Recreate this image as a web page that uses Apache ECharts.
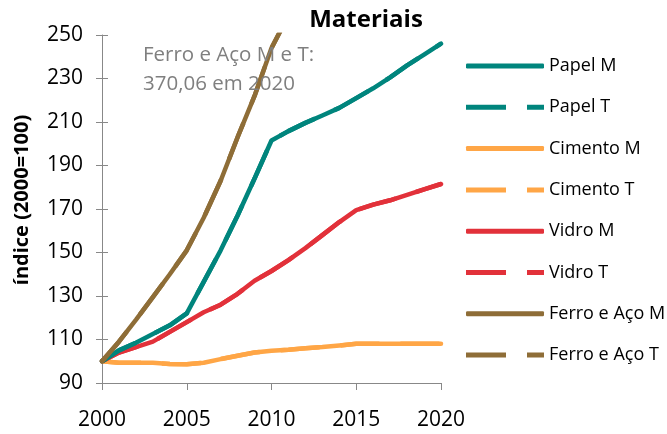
<!DOCTYPE html>
<html>
<head>
<meta charset="utf-8">
<script src="https://cdn.jsdelivr.net/npm/echarts@6/dist/echarts.min.js"></script>
<style>
  html, body { margin: 0; padding: 0; background: #fff; }
  #chart { width: 667px; height: 434px; }
</style>
</head>
<body>
<div id="chart"></div>
<script>
// Years on the horizontal axis
const years = [2000, 2001, 2002, 2003, 2004, 2005, 2006, 2007, 2008, 2009, 2010,
               2011, 2012, 2013, 2014, 2015, 2016, 2017, 2018, 2019, 2020];

// Index values (2000 = 100) per material, M and T
const papelM   = [100, 105, 108.5, 112.5, 116.5, 122, 136.5, 151, 167, 184, 201.5,
                  205.8, 209.6, 213, 216.5, 221, 225.5, 230.5, 236, 241, 246];
const papelT   = [100, 105, 108.5, 112.5, 116.5, 122, 136.5, 151, 167, 184, 201.5,
                  205.8, 209.6, 213, 216.5, 221, 225.5, 230.5, 236, 241, 246];
const cimentoM = [100, 99.3, 99.3, 99.3, 98.7, 98.6, 99.3, 101, 102.5, 104, 104.8,
                  105.3, 106, 106.5, 107.2, 108, 108, 108, 108, 108, 108];
const cimentoT = [100, 99.3, 99.3, 99.3, 98.7, 98.6, 99.3, 101, 102.5, 104, 104.8,
                  105.3, 106, 106.5, 107.2, 108, 108, 108, 108, 108, 108];
const vidroM   = [100, 104, 106.5, 109, 113.5, 118, 122.5, 126, 131, 137, 141.5,
                  146.5, 152, 158, 164, 169.5, 172, 174, 176.5, 179, 181.5];
const vidroT   = [100, 104, 106.5, 109, 113.5, 118, 122.5, 126, 131, 137, 141.5,
                  146.5, 152, 158, 164, 169.5, 172, 174, 176.5, 179, 181.5];
const ferroM   = [100, 109, 119, 129.5, 140, 151, 166, 183, 203, 222, 244,
                  259, 272, 284, 296, 308, 320, 333, 345, 357.5, 370.06];
const ferroT   = [100, 109, 119, 129.5, 140, 151, 166, 183, 203, 222, 244,
                  259, 272, 284, 296, 308, 320, 333, 345, 357.5, 370.06];

// Axis ticks
const yTicks = { min: 90, max: 250, step: 20 };
const xTicks = { min: 2000, max: 2020, step: 5 };

const FONT = '"Open Sans", "Noto Sans", sans-serif';
const AXIS_GREY = '#888888';

const COLORS = {
  papel: '#00857D',
  cimento: '#FFA646',
  vidro: '#E2313A',
  ferro: '#8E6D37'
};

// Legend keys: a thick bar for M lines, a long + short dash for T lines
const ICON_SOLID = 'roundRect';
const ICON_DASH = 'path://M0,0H40V5H0Z M61,0H78V5H61Z';

function pairs(values) {
  return years.map((y, i) => [y, values[i]]);
}

function solid(name, values, color) {
  return {
    name, type: 'line', data: pairs(values),
    symbol: 'none', clip: true,
    lineStyle: { color, width: 4.5, cap: 'round', join: 'round' },
    itemStyle: { color },
    emphasis: { disabled: true }
  };
}

function dashed(name, values, color) {
  return {
    name, type: 'line', data: pairs(values),
    symbol: 'none', clip: true,
    lineStyle: { color, width: 4.5, type: [39, 21], cap: 'butt' },
    itemStyle: { color },
    emphasis: { disabled: true }
  };
}

const chart = echarts.init(document.getElementById('chart'), null, { renderer: 'canvas' });

chart.setOption({
  animation: false,
  backgroundColor: '#ffffff',
  textStyle: { fontFamily: FONT },
  grid: { left: 102, right: 226, top: 35, bottom: 51, containLabel: false },
  xAxis: {
    type: 'value',
    min: xTicks.min, max: xTicks.max, interval: xTicks.step,
    axisLine: { lineStyle: { color: AXIS_GREY, width: 1 } },
    axisTick: { show: true, length: 7, lineStyle: { color: AXIS_GREY } },
    axisLabel: {
      fontFamily: FONT, fontSize: 21, color: '#000', margin: 27,
      formatter: v => String(v)
    },
    splitLine: { show: false }
  },
  yAxis: [
    {
      type: 'value',
      min: yTicks.min, max: yTicks.max, interval: yTicks.step,
      axisLine: { show: true, lineStyle: { color: AXIS_GREY, width: 1 } },
      axisTick: { show: true, length: 6, lineStyle: { color: AXIS_GREY } },
      axisLabel: { fontFamily: FONT, fontSize: 21, color: '#000', margin: 19 },
      splitLine: { show: false }
    },
    {
      // second copy of the left axis, drawing the inner half of the cross ticks
      type: 'value', position: 'left', offset: 0,
      min: yTicks.min, max: yTicks.max, interval: yTicks.step,
      axisLine: { show: false },
      axisTick: { show: true, inside: true, length: 6, lineStyle: { color: AXIS_GREY } },
      axisLabel: { show: false },
      splitLine: { show: false }
    }
  ],
  legend: {
    orient: 'vertical',
    left: 466, top: 52,
    padding: 0,
    itemWidth: 78, itemHeight: 5, itemGap: 13.3,
    selectedMode: false,
    textStyle: { fontFamily: FONT, fontSize: 18, color: '#000', lineHeight: 22, padding: [6, 0, 0, 0] },
    data: [
      { name: 'Papel M', icon: ICON_SOLID },
      { name: 'Papel T', icon: ICON_DASH },
      { name: 'Cimento M', icon: ICON_SOLID },
      { name: 'Cimento T', icon: ICON_DASH },
      { name: 'Vidro M', icon: ICON_SOLID },
      { name: 'Vidro T', icon: ICON_DASH },
      { name: 'Ferro e Aço M', icon: ICON_SOLID },
      { name: 'Ferro e Aço T', icon: ICON_DASH }
    ]
  },
  series: [
    solid('Cimento M', cimentoM, COLORS.cimento),
    dashed('Cimento T', cimentoT, COLORS.cimento),
    solid('Vidro M', vidroM, COLORS.vidro),
    dashed('Vidro T', vidroT, COLORS.vidro),
    solid('Papel M', papelM, COLORS.papel),
    dashed('Papel T', papelT, COLORS.papel),
    solid('Ferro e Aço M', ferroM, COLORS.ferro),
    dashed('Ferro e Aço T', ferroT, COLORS.ferro)
  ],
  graphic: [
    {
      type: 'text', x: 366, y: 8, z: 10,
      style: {
        text: 'Materiais',
        font: 'bold 24px ' + FONT, fill: '#000', align: 'center', verticalAlign: 'top'
      }
    },
    {
      type: 'text', x: 143, y: 41, z: 10,
      style: {
        text: 'Ferro e Aço M e T:\n370,06 em 2020',
        font: '20.5px ' + FONT, fill: '#7F7F7F', lineHeight: 28.5
      }
    },
    {
      type: 'text', x: 22, y: 200, rotation: Math.PI / 2, z: 10,
      style: {
        text: 'índice (2000=100)',
        font: 'bold 20px ' + FONT, fill: '#000',
        align: 'center', verticalAlign: 'middle'
      }
    }
  ]
});
</script>
</body>
</html>
